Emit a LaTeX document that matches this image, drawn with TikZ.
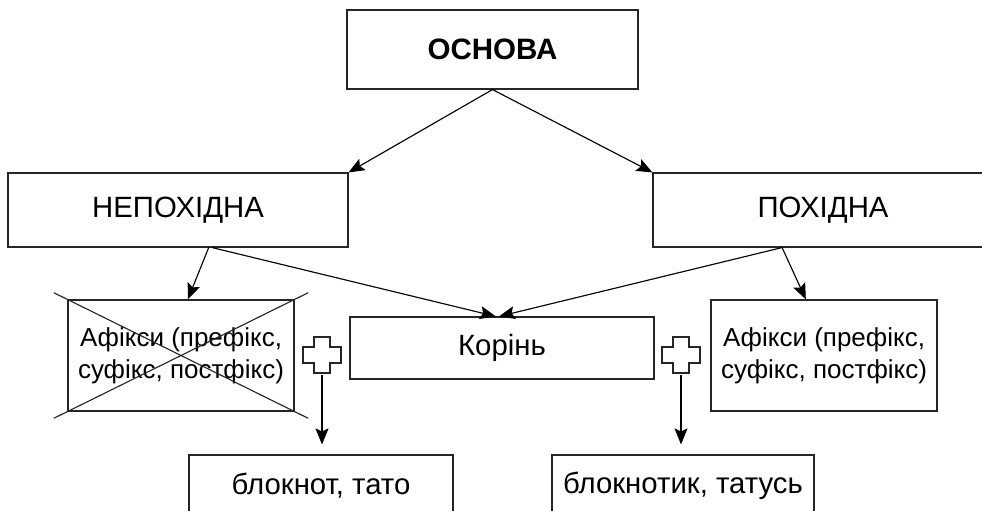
\documentclass[tikz,border=0pt]{standalone}
\usepackage{fontspec}
\setmainfont{Liberation Sans}
\usetikzlibrary{arrows.meta,calc}
\begin{document}
\begin{tikzpicture}[x=0.02cm, y=-0.02cm]
      \tikzset{box/.style={draw=black!85, line width=0.65pt, rectangle, inner sep=2pt, align=center, font=\fontsize{16.7}{20}\selectfont},
               affix/.style={box, minimum width=4.52cm, minimum height=2.22cm, font=\fontsize{14.8}{18}\selectfont},
               plussign/.style={inner sep=0pt, minimum width=0.76cm, minimum height=0.72cm},
               link/.style={->, > = {Stealth[length=3.2mm, width=2.6mm, inset=0.6mm]}, line width=0.65pt}}
      \useasboundingbox (0,0) rectangle (982,510);
      \clip (0,0) rectangle (982,510);
%% Boxes
      	\node[box, minimum width=5.82cm, minimum height=1.58cm, font=\fontsize{16.8}{20}\selectfont\bfseries] (osn) at (492.5,49.5) {ОСНОВА};
      	\node[box, minimum width=6.8cm, minimum height=1.48cm] (nep) at (178,210) {НЕПОХІДНА};
      	\node[box, minimum width=6.8cm, minimum height=1.48cm] (pox) at (823,210) {ПОХІДНА};
      	\node[affix] (afl) at (181,355.5) {Афікси (префікс,\\суфікс, постфікс)};
      	\node[affix] (afr) at (824,355.5) {Афікси (префікс,\\суфікс, постфікс)};
      	\node[box, minimum width=6.08cm, minimum height=1.24cm] (kor) at (502,348) {Корінь};
      	\node[box, minimum width=5.28cm, minimum height=1.24cm] (bl) at (321,486) {блокнот, тато};
      	\node[box, minimum width=5.24cm, minimum height=1.24cm] (br) at (683,486) {блокнотик, татусь};
      	\node[plussign] (p1) at (322,355) {};
      	\node[plussign] (p2) at (681,355) {};
%% Plus signs
		\foreach \p in {p1,p2}
		  \draw[line width=0.65pt, black!85] (\p.center) ++(-19,-8) -- ++(11,0) -- ++(0,-10) -- ++(16,0) -- ++(0,10) -- ++(11,0) -- ++(0,16) -- ++(-11,0) -- ++(0,10) -- ++(-16,0) -- ++(0,-10) -- ++(-11,0) -- cycle;
%% Crossed out affixes
		\draw[line width=0.65pt, black!85] ($(afl.north west)!-0.06!(afl.south east)$) -- ($(afl.north west)!1.06!(afl.south east)$);
		\draw[line width=0.65pt, black!85] ($(afl.north east)!-0.06!(afl.south west)$) -- ($(afl.north east)!1.06!(afl.south west)$);
%% Arrows
		\path[link] (osn.south) edge (nep.north east);
		\path[link] (osn.south) edge (pox.north west);
		\path[link] ($(nep.south west)!0.59!(nep.south east)$) edge ($(afl.north west)!0.53!(afl.north east)$);
		\path[link] ($(nep.south west)!0.6!(nep.south east)$) edge ($(kor.north west)!0.48!(kor.north east)$);
		\path[link] ($(pox.south west)!0.38!(pox.south east)$) edge ($(kor.north west)!0.49!(kor.north east)$);
		\path[link] ($(pox.south west)!0.38!(pox.south east)$) edge ($(afr.north west)!0.42!(afr.north east)$);
		\path[link, shorten <=1pt, shorten >=0.2cm] (p1.south) edge (p1.south |- bl.north);
		\path[link, shorten <=1pt, shorten >=0.2cm] (p2.south) edge (p2.south |- br.north);
	\end{tikzpicture}
\end{document}
